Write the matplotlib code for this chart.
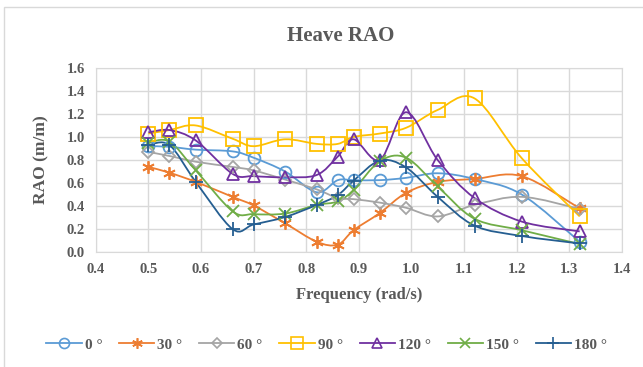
import matplotlib
matplotlib.use("Agg")
import matplotlib.pyplot as plt
from matplotlib.path import Path
from matplotlib.patches import PathPatch, Rectangle
from matplotlib.lines import Line2D
import numpy as np

# wave frequency (rad/s) and heave RAO per heading
freq = [0.50, 0.54, 0.59, 0.66, 0.70, 0.76, 0.82, 0.86, 0.89, 0.94, 0.99, 1.05, 1.12, 1.21, 1.32]
rao_0 = [0.92, 0.915, 0.89, 0.875, 0.82, 0.70, 0.52, 0.625, 0.625, 0.625, 0.645, 0.685, 0.635, 0.50, 0.09]
rao_30 = [0.74, 0.69, 0.61, 0.48, 0.405, 0.25, 0.09, 0.065, 0.19, 0.34, 0.515, 0.61, 0.635, 0.66, 0.38]
rao_60 = [0.87, 0.835, 0.785, 0.74, 0.71, 0.63, 0.545, 0.47, 0.46, 0.43, 0.385, 0.31, 0.41, 0.48, 0.375]
rao_90 = [1.03, 1.06, 1.10, 0.985, 0.92, 0.98, 0.94, 0.94, 1.00, 1.03, 1.08, 1.235, 1.335, 0.815, 0.31]
rao_120 = [1.04, 1.06, 0.97, 0.68, 0.66, 0.65, 0.67, 0.83, 0.98, 0.80, 1.215, 0.80, 0.47, 0.265, 0.18]
rao_150 = [0.95, 0.96, 0.71, 0.355, 0.33, 0.335, 0.41, 0.44, 0.54, 0.79, 0.82, 0.57, 0.29, 0.19, 0.07]
rao_180 = [0.93, 0.93, 0.61, 0.20, 0.24, 0.305, 0.41, 0.495, 0.62, 0.795, 0.735, 0.48, 0.23, 0.14, 0.075]

labels = ["0 °", "30 °", "60 °", "90 °", "120 °", "150 °", "180 °"]
series = [rao_0, rao_30, rao_60, rao_90, rao_120, rao_150, rao_180]
colors = ["#5B9BD5", "#ED7D31", "#A5A5A5", "#FFC000", "#7030A0", "#70AD47", "#255E91"]
markers = ["o", (6, 2, 0), "D", "s", "^", "x", "+"]
msizes = [8.5, 9, 6, 9.5, 9, 9, 10]

txt = "#595959"
plt.rcParams["font.family"] = ["Liberation Serif", "DejaVu Serif"]
plt.rcParams["font.weight"] = "bold"


def smooth_path(x, y):
    # bezier through every point, control points like a catmull-rom spline
    pts = np.column_stack([x, y])
    verts = [pts[0]]
    codes = [Path.MOVETO]
    n = len(pts)
    for i in range(n - 1):
        p0 = pts[i - 1] if i > 0 else pts[i]
        p1 = pts[i]
        p2 = pts[i + 1]
        p3 = pts[i + 2] if i + 2 < n else pts[i + 1]
        c1 = p1 + (p2 - p0) / 6.0
        c2 = p2 - (p3 - p1) / 6.0
        verts += [c1, c2, p2]
        codes += [Path.CURVE4] * 3
    return Path(verts, codes)


fig = plt.figure(figsize=(6.43, 3.67), dpi=100)
ax = fig.add_axes([0.149, 0.313, 0.818, 0.502])

handles = []
for lab, vals, c, m, ms in zip(labels, series, colors, markers, msizes):
    ax.add_patch(PathPatch(smooth_path(freq, vals), facecolor="none",
                           edgecolor=c, lw=1.3, zorder=3))
    ax.plot(freq, vals, ls="none", marker=m, ms=ms, mfc="none",
            mec=c, mew=1.3, zorder=4)
    handles.append(Line2D([], [], color=c, lw=1.3, marker=m, ms=ms * 0.85,
                          mfc="none", mec=c, mew=1.2, label=lab))

ax.set_xlim(0.4, 1.4)
ax.set_ylim(0, 1.6)
ax.set_xticks(np.arange(0.4, 1.41, 0.1))
ax.set_yticks(np.arange(0, 1.61, 0.2))
ax.set_xticklabels([f"{v:.1f}" for v in np.arange(0.4, 1.41, 0.1)])
ax.set_yticklabels([f"{v:.1f}" for v in np.arange(0, 1.61, 0.2)])
ax.grid(True, color="#D9D9D9", lw=1.0, zorder=0)
ax.set_axisbelow(True)
for s in ax.spines.values():
    s.set_color("#D9D9D9")
ax.tick_params(length=0, labelsize=10.5, colors=txt, pad=8)
for t in ax.get_xticklabels() + ax.get_yticklabels():
    t.set_fontweight("bold")

ax.set_xlabel("Frequency (rad/s)", fontsize=12, fontweight="bold", color=txt, labelpad=8)
ax.set_ylabel("RAO (m/m)", fontsize=12.5, fontweight="bold", color=txt, labelpad=12)
fig.text(0.53, 0.902, "Heave RAO", ha="center", va="center",
         fontsize=15, fontweight="bold", color=txt)

leg = fig.legend(handles=handles, loc="center", bbox_to_anchor=(0.508, 0.06),
                 ncol=7, frameon=False, fontsize=11, handlelength=2.3,
                 handletextpad=0.2, columnspacing=1.1)
for t in leg.get_texts():
    t.set_color(txt)
    t.set_fontweight("bold")

fig.patches.append(Rectangle((0.006, -0.01), 1.0, 0.99, transform=fig.transFigure,
                             fill=False, edgecolor="#D9D9D9", lw=1.0))

fig.savefig("out.png", dpi=100)
